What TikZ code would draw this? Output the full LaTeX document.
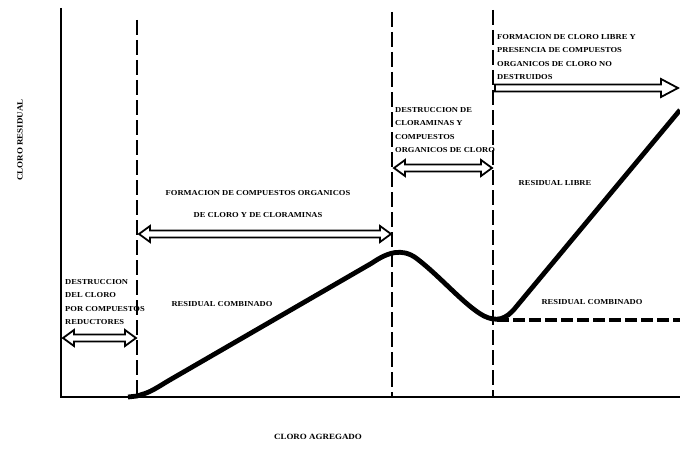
\documentclass[tikz,border=0pt]{standalone}
\usepackage{fontspec}
\setmainfont{Liberation Serif}
\newfontfamily\lblfont{Liberation Serif}[FakeStretch=1.12]
\begin{document}
\begin{tikzpicture}[x=1pt,y=-1pt,
  axisline/.style={line width=2.4pt},
  divline/.style={line width=2.4pt, dash pattern=on 15pt off 5pt},
  curveline/.style={line width=4.8pt, line join=round},
  combline/.style={line width=3.2pt, dash pattern=on 12pt off 4pt},
  hollowarr/.style={line width=1.8pt, line join=miter, fill=white},
  lbl/.style={font=\lblfont\fontsize{7.6}{13.5}\selectfont\bfseries, inner sep=0pt, align=left},
  axlbl/.style={font=\lblfont\fontsize{8}{10}\selectfont\bfseries, inner sep=0pt}]
\newcommand{\hollowdbl}[3]{\draw[hollowarr] (#1,#3) -- ++(11,-8) -- ++(0,4.5) -- ({#2-11},{#3-3.5}) -- ++(0,-4.5) -- (#2,#3) -- ++(-11,8) -- ++(0,-4.5) -- ({#1+11},{#3+3.5}) -- ++(0,4.5) -- cycle;}
\useasboundingbox (0,0) rectangle (680,452);
% axes
\coordinate (ytop) at (61,8);
\coordinate (origin) at (61,397);
\coordinate (xend) at (680,397);
\draw[axisline] (ytop) -- (origin) -- (xend);
% division lines
\coordinate (d1t) at (137,20);  \coordinate (d1b) at (137,397);
\coordinate (d2t) at (392,12);  \coordinate (d2b) at (392,397);
\coordinate (d3t) at (493,10);  \coordinate (d3b) at (493,397);
\draw[divline] (d1t) -- (d1b);
\draw[divline] (d2t) -- (d2b);
\draw[divline] (d3t) -- (d3b);
% combined residual dashed line
\coordinate (cs) at (497,320);
\coordinate (ce) at (680,320);
\draw[combline] (cs) -- (ce);
% breakpoint curve
\draw[curveline] (128,397) -- (137,396) .. controls (150,392) .. (168,381)
  -- (372,263) .. controls (388,252) and (402,248) .. (416,258)
  .. controls (440,276) and (465,306) .. (484,316)
  .. controls (496,322) and (506,320) .. (516,307) -- (680,110);
% hollow arrows
\hollowdbl{63}{136}{338}
\hollowdbl{139}{391}{234}
\hollowdbl{394}{492}{168}
\draw[hollowarr] (495,84.5) -- (661,84.5) -- (661,79) -- (678,88) -- (661,97) -- (661,91.5) -- (495,91.5) -- cycle;
% labels
\node[lbl, anchor=north west] (t1) at (65,279) {DESTRUCCION\\DEL CLORO\\POR COMPUESTOS\\REDUCTORES};
\node[lbl] (t2a) at (258,193) {FORMACION DE COMPUESTOS ORGANICOS};
\node[lbl] (t2b) at (258,215) {DE CLORO Y DE CLORAMINAS};
\node[lbl, anchor=north west] (t3) at (395,107) {DESTRUCCION DE\\CLORAMINAS Y\\COMPUESTOS\\ORGANICOS DE CLORO};
\node[lbl, anchor=north west] (t4) at (497,34) {FORMACION DE CLORO LIBRE Y\\PRESENCIA DE COMPUESTOS\\ORGANICOS DE CLORO NO\\DESTRUIDOS};
\node[lbl] (rc1) at (222,304) {RESIDUAL COMBINADO};
\node[lbl] (rc2) at (592,302) {RESIDUAL COMBINADO};
\node[lbl] (rl) at (555,183) {RESIDUAL LIBRE};
\node[axlbl, rotate=90] (yl) at (20,140) {CLORO RESIDUAL};
\node[axlbl] (xl) at (318,437) {CLORO AGREGADO};
\end{tikzpicture}
\end{document}
